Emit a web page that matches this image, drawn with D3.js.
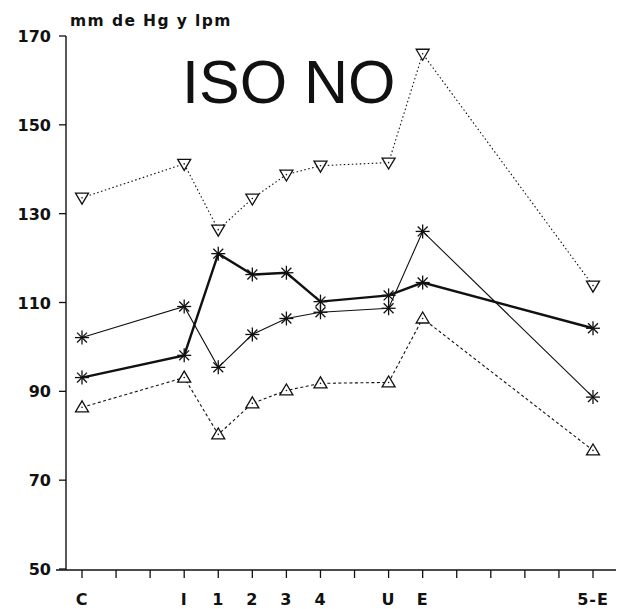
<!DOCTYPE html>
<html>
<head>
<meta charset="utf-8">
<script src="https://cdn.jsdelivr.net/npm/d3@7"></script>
<style>
  body { margin: 0; background: #fff; }
  text { fill: #111; }
  .lab { font-family: "DejaVu Sans", "Liberation Sans", sans-serif; font-weight: bold; }
  .title { font-family: "Liberation Sans", Arial, sans-serif; }
</style>
</head>
<body>
<div id="chart"></div>
<script>
(function(d3){

  // x slots (16 ticks), only some carry labels
  var slotLabels = ['C', '', '', 'I', '1', '2', '3', '4', '', 'U', 'E', '', '', '', '', '5-E'],
      categories = ['C', 'I', '1', '2', '3', '4', 'U', 'E', '5-E'],
      yTicks = [50, 70, 90, 110, 130, 150, 170];

  // series values
  var downTri   = [133.6, 141.2, 126.4, 133.4, 138.8, 140.8, 141.5, 166.0, 113.8],
      thinStar  = [102.1, 109.1, 95.4, 102.8, 106.4, 107.8, 108.7, 126.0, 88.7],
      thickStar = [93.1, 98.1, 121.0, 116.3, 116.7, 110.2, 111.6, 114.5, 104.2],
      upTri     = [86.4, 93.1, 80.3, 87.3, 90.2, 91.8, 92.0, 106.4, 76.7];

  var canvas_d = {width: 620, height: 609};

  var svg = d3.select('#chart').append('svg')
      .attr('width', canvas_d.width)
      .attr('height', canvas_d.height);

  var x = d3.scaleLinear().domain([0, 15]).range([82, 593]),
      y = d3.scaleLinear().domain([50, 170]).range([569, 36]);

  var slotOf = function(c) { return slotLabels.indexOf(c); };

  /**
   * Axes.
   */
  svg.append('line')
      .attr('x1', 66).attr('x2', 66)
      .attr('y1', y(170)).attr('y2', y(50) + 1)
      .attr('stroke', '#111').attr('stroke-width', 1.4);

  svg.append('line')
      .attr('x1', 56).attr('x2', 616)
      .attr('y1', 570).attr('y2', 570)
      .attr('stroke', '#111').attr('stroke-width', 1.4);

  svg.selectAll('.ytick')
      .data(yTicks)
    .enter().append('line')
      .attr('class', 'ytick')
      .attr('x1', 59).attr('x2', 66)
      .attr('y1', function(d) { return y(d); })
      .attr('y2', function(d) { return y(d); })
      .attr('stroke', '#111').attr('stroke-width', 1.3);

  svg.selectAll('.ylab')
      .data(yTicks)
    .enter().append('text')
      .attr('class', 'ylab lab')
      .attr('x', 51)
      .attr('y', function(d) { return y(d) + 6; })
      .attr('text-anchor', 'end')
      .attr('font-size', 16)
      .text(function(d) { return d; });

  svg.selectAll('.xtick')
      .data(d3.range(slotLabels.length))
    .enter().append('line')
      .attr('class', 'xtick')
      .attr('x1', function(d) { return x(d); })
      .attr('x2', function(d) { return x(d); })
      .attr('y1', 570).attr('y2', 578)
      .attr('stroke', '#111').attr('stroke-width', 1.3);

  svg.selectAll('.xlab')
      .data(categories)
    .enter().append('text')
      .attr('class', 'xlab lab')
      .attr('x', function(d) { return x(slotOf(d)); })
      .attr('y', 605)
      .attr('text-anchor', 'middle')
      .attr('font-size', 16)
      .attr('letter-spacing', 1)
      .text(function(d) { return d; });

  svg.append('text')
      .attr('class', 'lab')
      .attr('x', 70).attr('y', 26)
      .attr('font-size', 15.5)
      .attr('letter-spacing', 1.4)
      .text('mm de Hg y lpm');

  svg.append('text')
      .attr('class', 'title')
      .attr('x', 182).attr('y', 103)
      .attr('font-size', 61)
      .text('ISO NO');

  /**
   * Series.
   */
  var line = d3.line()
      .x(function(d, i) { return x(slotOf(categories[i])); })
      .y(function(d) { return y(d); });

  var series = [
    {values: downTri,   width: 1.1, dash: '1.5,2.5', marker: 'down'},
    {values: upTri,     width: 1.1, dash: '3,2.5',   marker: 'up'},
    {values: thinStar,  width: 1.1, dash: null,      marker: 'star'},
    {values: thickStar, width: 2.4, dash: null,      marker: 'star'}
  ];

  series.forEach(function(s) {
    svg.append('path')
        .datum(s.values)
        .attr('d', line)
        .attr('fill', 'none')
        .attr('stroke', '#111')
        .attr('stroke-width', s.width)
        .attr('stroke-dasharray', s.dash);

    var g = svg.selectAll(null)
        .data(s.values)
      .enter().append('g')
        .attr('transform', function(d, i) {
          return 'translate(' + x(slotOf(categories[i])) + ',' + y(d) + ')';
        });

    if (s.marker === 'star') {
      [0, 45, 90, 135].forEach(function(a) {
        g.append('line')
            .attr('x1', -7).attr('x2', 7)
            .attr('y1', 0).attr('y2', 0)
            .attr('transform', 'rotate(' + a + ')')
            .attr('stroke', '#111').attr('stroke-width', 1.3);
      });
    } else {
      g.append('path')
          .attr('d', s.marker === 'down' ? 'M-6.5,-4.5L6.5,-4.5L0,6.5Z' : 'M-6.5,4.5L6.5,4.5L0,-6.5Z')
          .attr('fill', '#fff').attr('stroke', '#111').attr('stroke-width', 1.3);
      g.append('circle')
          .attr('r', 0.8)
          .attr('fill', '#111');
    }
  });

})(d3);
</script>
</body>
</html>
